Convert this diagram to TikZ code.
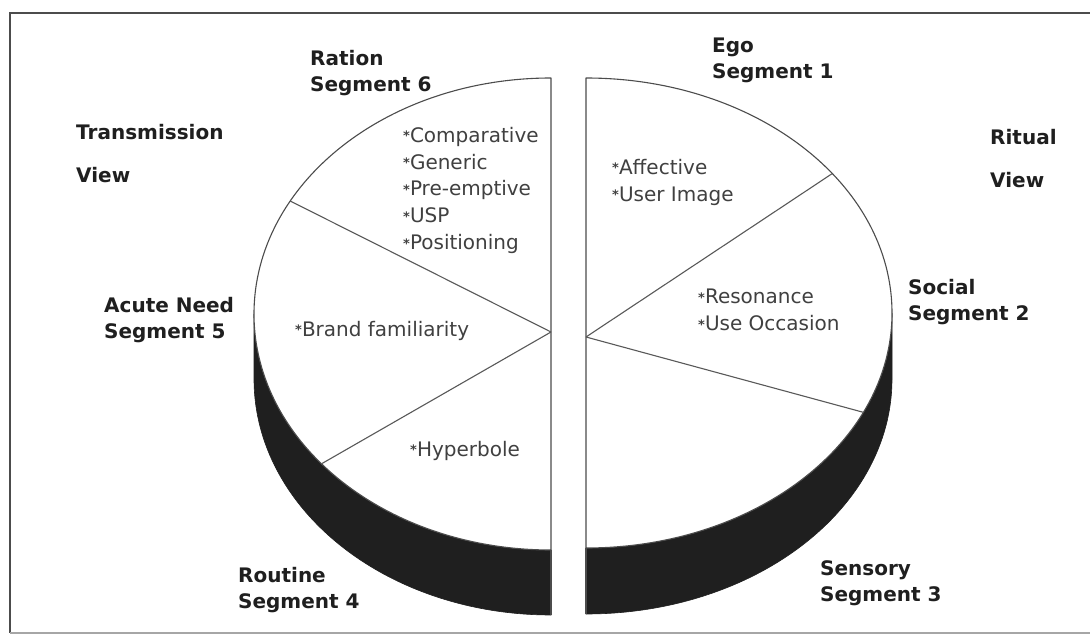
\documentclass[tikz,border=0pt]{standalone}
\usepackage{fontspec}
\setmainfont{DejaVu Sans}
\newcommand\itembul{{\bfseries\fontsize{13}{13}\selectfont\raisebox{1.5pt}{*}}}
\begin{document}
\begin{tikzpicture}[x=1pt,y=1pt,
  band/.style={fill=black!88, draw=black!88, line width=0.6pt},
  face/.style={fill=white, draw=black!70, line width=1.1pt, line join=round},
  spoke/.style={draw=black!65, line width=1.1pt},
  seglabel/.style={anchor=north west, inner sep=0pt, align=left, text=black!88,
    font=\bfseries\fontsize{20}{26}\selectfont},
  viewlabel/.style={anchor=north west, inner sep=0pt, align=left, text=black!88,
    font=\bfseries\fontsize{20}{43}\selectfont},
  itemlist/.style={anchor=north west, inner sep=0pt, align=left, text=black!75,
    font=\fontsize{20}{26.8}\selectfont},
]
\useasboundingbox (0,0) rectangle (1090,-639);
\fill[white] (0,0) rectangle (1090,-639);

% outer frame, open on the right
\draw[black!70, line width=1.8pt] (1095,-13) -- (10,-13) -- (10,-633);
\draw[black!35, line width=1.2pt] (10,-633) -- (1095,-633);

% ---------- left half of the pie ----------
\coordinate (Lc) at (551,-314);
\fill[band] (254,-314) arc[start angle=180, end angle=270, x radius=297, y radius=236]
  -- (551,-615) arc[start angle=270, end angle=180, x radius=297, y radius=236] -- cycle;
\draw[face] (551,-78) arc[start angle=90, end angle=270, x radius=297, y radius=236] -- cycle;
\draw[black!70, line width=1.1pt] (551,-550) -- (551,-615);
\coordinate (Lhub) at (551,-332);
\path (Lc) ++(151.4:297 and 236) coordinate (Lr1);
\path (Lc) ++(219.4:297 and 236) coordinate (Lr2);
\draw[spoke] (Lhub) -- (Lr1);
\draw[spoke] (Lhub) -- (Lr2);

% ---------- right half of the pie ----------
\coordinate (Rc) at (586,-313);
\fill[band] (586,-548) arc[start angle=270, end angle=360, x radius=306, y radius=235]
  -- (892,-379) arc[start angle=0, end angle=-90, x radius=306, y radius=235] -- cycle;
\draw[face] (586,-78) arc[start angle=90, end angle=-90, x radius=306, y radius=235] -- cycle;
\draw[black!70, line width=1.1pt] (586,-548) -- (586,-614);
\coordinate (Rhub) at (586,-337);
\path (Rc) ++(36.4:306 and 235) coordinate (Rr1);
\path (Rc) ++(-25:306 and 235) coordinate (Rr2);
\draw[spoke] (Rhub) -- (Rr1);
\draw[spoke] (Rhub) -- (Rr2);

% ---------- segment labels ----------
\node[seglabel] (seg6) at (310,-50.5) {Ration\\Segment 6};
\node[seglabel] (seg1) at (712,-37.5) {Ego\\Segment 1};
\node[seglabel] (seg5) at (104,-297.5) {Acute Need\\Segment 5};
\node[seglabel] (seg2) at (908,-279.5) {Social\\Segment 2};
\node[seglabel] (seg4) at (238,-567.5) {Routine\\Segment 4};
\node[seglabel] (seg3) at (820,-560.5) {Sensory\\Segment 3};
\node[viewlabel] (tview) at (76,-124.5) {Transmission\\View};
\node[viewlabel] (rview) at (990,-129.5) {Ritual\\View};

% ---------- advertising approaches per segment ----------
\node[itemlist] (list6) at (403,-127) {\itembul Comparative\\\itembul Generic\\\itembul Pre-emptive\\\itembul USP\\\itembul Positioning};
\node[itemlist] (list5) at (295,-321) {\itembul Brand familiarity};
\node[itemlist] (list4) at (410,-441) {\itembul Hyperbole};
\node[itemlist] (list1) at (612,-159) {\itembul Affective\\\itembul User Image};
\node[itemlist] (list2) at (698,-289) {\itembul Resonance\\\itembul Use Occasion};
\end{tikzpicture}
\end{document}
